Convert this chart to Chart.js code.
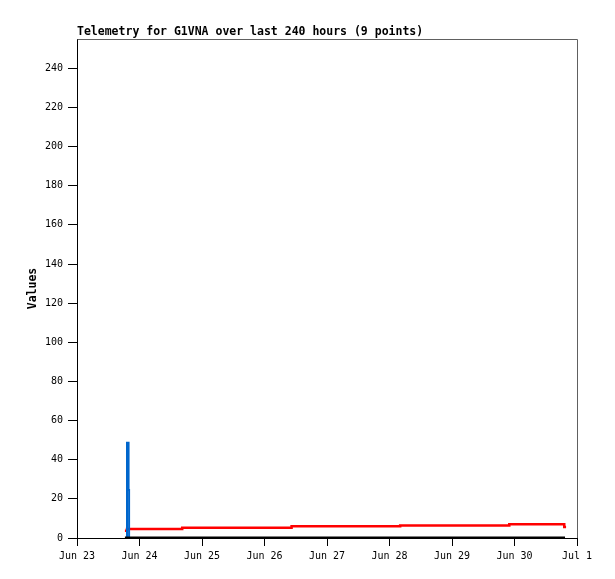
<!DOCTYPE html>
<html>
<head>
<meta charset="utf-8">
<script src="https://cdn.jsdelivr.net/npm/chart.js@4/dist/chart.umd.min.js"></script>
<style>
html,body{margin:0;padding:0;background:#fff;}
#wrap{width:615px;height:579px;position:relative;}
</style>
</head>
<body>
<div id="wrap"><canvas id="c"></canvas></div>
<script>
// hours since Jun 23 00:00
const xTickHours = [0, 24, 48, 72, 96, 120, 144, 168, 192];
const xTickLabels = ["Jun 23", "Jun 24", "Jun 25", "Jun 26", "Jun 27", "Jun 28", "Jun 29", "Jun 30", "Jul 1"];
const yTickValues = [0, 20, 40, 60, 80, 100, 120, 140, 160, 180, 200, 220, 240];

const redHours = [18.4, 19.2, 40.4, 82.4, 124.1, 166.0, 187.1, 187.8];
const redValues = [3.7, 4.6, 5.3, 6.0, 6.4, 7.0, 5.6, 5.6];

const blueHours = [19.0, 19.2, 19.8, 20.0];
const blueValues = [0, 48.7, 24.5, 0];

const blackHours = [18.4, 187.4];
const blackValues = [0, 0];

const titleText = "Telemetry for G1VNA over last 240 hours (9 points)";
const yTitle = "Values";

function pts(xs, ys) { return xs.map((x, i) => ({x: x, y: ys[i]})); }

const mono = "'DejaVu Sans Mono', 'Liberation Mono', monospace";

const framePlugin = {
  id: 'frame',
  afterDraw(chart) {
    const ctx = chart.ctx, a = chart.chartArea;
    ctx.save();
    ctx.strokeStyle = '#606060';
    ctx.lineWidth = 1;
    ctx.beginPath();
    ctx.moveTo(a.left + 0.5, a.top + 0.5);
    ctx.lineTo(a.right + 0.5, a.top + 0.5);
    ctx.lineTo(a.right + 0.5, a.bottom);
    ctx.stroke();
    ctx.fillStyle = '#000';
    ctx.font = "bold 11.5px " + mono;
    ctx.textAlign = 'left';
    ctx.textBaseline = 'alphabetic';
    ctx.fillText(titleText, a.left, a.top - 4);
    ctx.translate(36, (a.top + a.bottom) / 2);
    ctx.rotate(-Math.PI / 2);
    ctx.textAlign = 'center';
    ctx.font = "bold 11.5px " + mono;
    ctx.fillText(yTitle, 0, 0);
    ctx.restore();
  }
};

new Chart(document.getElementById('c'), {
  type: 'line',
  data: {
    datasets: [
      {data: pts(blackHours, blackValues), borderColor: '#000000', borderWidth: 3, stepped: 'before', pointRadius: 0, order: 0},
      {data: pts(blueHours, blueValues), borderColor: '#0066cc', borderWidth: 2, stepped: 'before', pointRadius: 0, order: 1},
      {data: pts(redHours, redValues), borderColor: '#ff0000', borderWidth: 2.5, stepped: 'before', pointRadius: 0, order: 2}
    ]
  },
  options: {
    responsive: true,
    maintainAspectRatio: false,
    animation: false,
    layout: {padding: {top: 39, right: 38, left: 0, bottom: 0}},
    plugins: {legend: {display: false}, tooltip: {enabled: false}, title: {display: false}},
    scales: {
      x: {
        type: 'linear', min: 0, max: 192,
        afterBuildTicks: s => { s.ticks = xTickHours.map(v => ({value: v})); },
        afterFit: s => { s.height = 41; },
        grid: {drawOnChartArea: false, drawTicks: true, tickLength: 8, color: '#000', tickWidth: 1},
        border: {display: true, color: '#000', width: 1},
        ticks: {
          color: '#000', font: {family: mono, size: 10}, padding: 4, maxRotation: 0, autoSkip: false,
          callback: (v) => { const i = xTickHours.indexOf(v); return i >= 0 ? xTickLabels[i] : ''; }
        }
      },
      y: {
        type: 'linear', min: 0, max: 255,
        afterBuildTicks: s => { s.ticks = yTickValues.map(v => ({value: v})); },
        afterFit: s => { s.width = 77; },
        grid: {drawOnChartArea: false, drawTicks: true, tickLength: 9, color: '#000', tickWidth: 1},
        border: {display: true, color: '#000', width: 1},
        ticks: {color: '#000', font: {family: mono, size: 10}, padding: 5, autoSkip: false}
      }
    }
  },
  plugins: [framePlugin]
});
</script>
</body>
</html>
